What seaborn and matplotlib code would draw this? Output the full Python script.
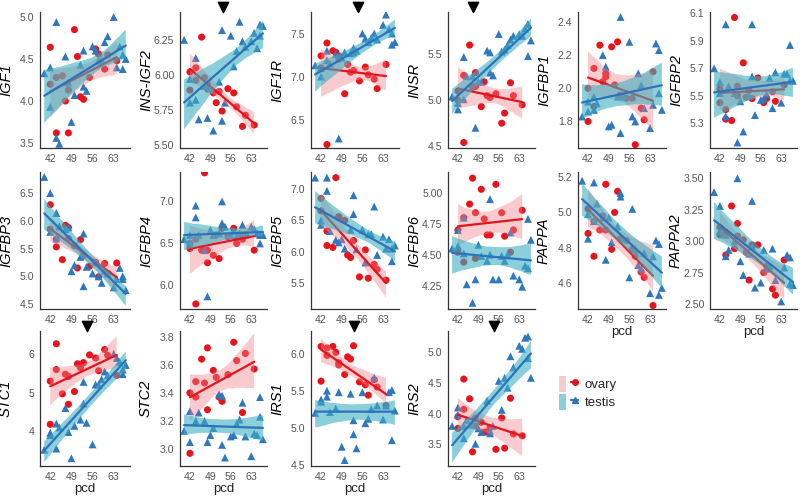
import numpy as np
import pandas as pd
import matplotlib
matplotlib.use('Agg')
import matplotlib.pyplot as plt
import matplotlib.transforms as mtransforms
from matplotlib.lines import Line2D
from matplotlib.patches import Patch
from matplotlib.legend_handler import HandlerTuple
from matplotlib.ticker import FormatStrFormatter
import seaborn as sns

# sampling ages (post-conception day)
ovary_pcd = [42, 42, 44, 44, 46, 47, 48, 48, 50, 51, 52, 53, 55, 57, 58, 60, 61, 64]
testis_pcd = [40, 42, 42, 44, 44, 45, 47, 48, 49, 50, 52, 53, 53, 54, 56, 57, 58, 59, 60, 61, 63, 64, 65, 66, 66, 67]

genes = ['IGF1', 'INS-IGF2', 'IGF1R', 'INSR', 'IGFBP1', 'IGFBP2',
         'IGFBP3', 'IGFBP4', 'IGFBP5', 'IGFBP6', 'PAPPA', 'PAPPA2',
         'STC1', 'STC2', 'IRS1', 'IRS2']

# expression values
igf1_ovary = [4.64, 4.20, 3.62, 4.28, 4.30, 4.00, 4.13, 3.62, 4.85, 4.53, 4.05, 4.02, 4.28, 4.62, 4.56, 4.38, 4.55, 4.48]
igf1_testis = [4.33, 4.40, 3.93, 4.94, 3.56, 3.49, 4.53, 4.22, 3.75, 4.07, 4.43, 4.60, 4.17, 4.12, 4.65, 4.60, 4.48, 4.49, 4.70, 4.77, 5.00, 4.40, 4.65, 4.38, 4.55, 4.50]
insigf2_ovary = [5.89, 6.02, 5.96, 6.05, 6.27, 5.98, 5.90, 5.93, 5.87, 5.80, 5.88, 5.74, 5.90, 5.87, 5.77, 5.63, 5.71, 5.64]
insigf2_testis = [6.25, 5.97, 5.80, 6.12, 5.82, 5.68, 5.92, 5.69, 5.90, 5.60, 5.95, 6.32, 5.67, 5.80, 6.28, 6.06, 6.17, 6.38, 6.24, 6.20, 6.24, 6.30, 6.19, 6.36, 6.28, 6.35]
igf1r_ovary = [7.24, 7.10, 7.39, 6.21, 7.30, 7.28, 7.24, 7.20, 6.80, 7.14, 7.05, 7.07, 6.95, 7.11, 7.02, 6.97, 6.86, 7.14]
igf1r_testis = [7.13, 7.00, 7.10, 7.30, 7.19, 7.15, 7.26, 6.28, 7.22, 7.28, 7.27, 7.33, 7.28, 7.30, 7.50, 7.44, 7.40, 7.45, 7.50, 7.43, 7.60, 7.72, 7.55, 7.37, 7.50, 7.40]
insr_ovary = [5.00, 5.10, 5.27, 4.54, 5.60, 5.14, 5.30, 5.15, 4.93, 5.20, 5.05, 5.03, 5.07, 4.75, 4.86, 5.19, 5.05, 4.95]
insr_testis = [5.04, 4.90, 4.97, 5.47, 5.01, 5.26, 5.26, 4.70, 5.20, 5.20, 5.54, 5.52, 5.30, 5.27, 5.72, 5.53, 5.55, 5.60, 5.66, 5.70, 5.72, 5.70, 5.78, 5.83, 5.48, 5.65]
igfbp1_ovary = [1.80, 2.00, 1.89, 2.12, 2.26, 2.04, 2.09, 2.07, 2.25, 2.02, 2.28, 1.96, 1.94, 1.94, 1.66, 1.88, 1.81, 2.10]
igfbp1_testis = [1.83, 1.92, 1.86, 1.95, 1.87, 1.91, 2.20, 2.13, 1.77, 1.78, 1.95, 2.43, 1.73, 1.95, 2.28, 1.83, 1.80, 2.09, 2.02, 1.88, 1.76, 1.90, 2.27, 2.23, 1.97, 1.87]
igfbp2_ovary = [5.45, 5.55, 5.33, 5.40, 5.32, 6.07, 5.57, 5.50, 5.74, 5.49, 5.54, 5.48, 5.63, 5.45, 5.48, 5.53, 5.46, 5.58]
igfbp2_testis = [5.70, 5.60, 5.52, 6.02, 5.35, 5.57, 5.52, 5.16, 5.46, 5.24, 5.50, 6.02, 5.64, 5.36, 5.47, 5.48, 5.51, 5.63, 5.41, 5.67, 5.45, 5.66, 5.66, 5.87, 5.61, 5.61]
igfbp3_ovary = [6.29, 5.85, 5.53, 5.67, 5.30, 5.92, 5.88, 5.68, 5.55, 5.15, 5.66, 5.37, 5.18, 5.25, 4.99, 5.23, 5.05, 5.24]
igfbp3_testis = [6.79, 6.50, 5.80, 6.14, 5.68, 5.90, 5.85, 5.88, 5.09, 5.20, 5.35, 5.77, 4.82, 5.17, 5.05, 5.25, 5.00, 4.88, 5.10, 5.05, 4.80, 4.95, 5.15, 5.00, 4.95, 4.75]
igfbp4_ovary = [6.44, 6.50, 6.55, 5.78, 6.42, 7.34, 6.27, 6.42, 6.36, 6.60, 6.32, 6.68, 6.58, 6.68, 6.50, 6.55, 6.60, 6.42]
igfbp4_testis = [6.55, 6.51, 6.60, 6.95, 6.81, 6.60, 6.42, 5.87, 6.66, 6.60, 6.62, 7.00, 6.74, 6.70, 6.60, 6.65, 6.58, 6.62, 6.72, 6.60, 6.70, 6.67, 6.62, 6.50, 6.60, 6.60]
igfbp5_ovary = [6.85, 6.65, 6.10, 6.33, 6.07, 7.18, 6.56, 6.55, 6.50, 5.95, 5.91, 6.18, 5.60, 6.03, 5.58, 5.80, 5.72, 5.55]
igfbp5_testis = [7.18, 6.50, 6.43, 7.18, 6.97, 6.33, 6.19, 6.15, 6.20, 6.05, 6.35, 6.90, 6.60, 6.04, 6.35, 5.83, 6.28, 6.28, 6.72, 5.95, 6.24, 6.05, 6.20, 6.05, 5.85, 6.10]
igfbp6_ovary = [4.52, 4.70, 4.44, 4.80, 4.91, 5.12, 4.47, 4.84, 5.03, 4.79, 4.66, 4.66, 5.07, 4.84, 4.65, 4.52, 4.70, 4.86]
igfbp6_testis = [4.55, 4.70, 4.57, 4.80, 4.51, 4.26, 4.11, 4.30, 4.58, 4.49, 4.45, 4.95, 4.50, 4.30, 4.30, 4.49, 4.45, 4.50, 4.68, 4.33, 4.30, 4.24, 4.41, 4.79, 4.39, 4.62]
pappa_ovary = [4.88, 5.02, 4.75, 4.95, 4.90, 4.98, 4.90, 5.16, 4.79, 5.00, 5.12, 4.85, 4.84, 4.79, 4.75, 4.66, 4.63, 4.47]
pappa_testis = [5.18, 4.99, 4.85, 5.17, 4.95, 5.05, 4.97, 4.73, 4.97, 4.83, 4.92, 5.11, 5.09, 4.85, 4.63, 5.02, 4.79, 4.70, 4.68, 4.77, 4.54, 4.75, 4.84, 4.82, 4.53, 4.57]
pappa2_ovary = [3.11, 3.05, 2.89, 3.07, 3.28, 2.94, 3.14, 3.04, 3.01, 2.91, 2.69, 2.97, 2.97, 2.75, 2.80, 2.62, 2.57, 2.85]
pappa2_testis = [3.39, 3.28, 3.08, 2.88, 3.05, 2.93, 3.00, 3.50, 2.84, 2.73, 2.90, 3.32, 2.96, 2.63, 2.67, 2.93, 2.78, 2.80, 2.94, 2.69, 2.52, 2.79, 2.89, 2.87, 2.66, 2.65]
stc1_ovary = [4.18, 5.30, 6.27, 5.60, 4.97, 5.48, 4.70, 5.42, 5.03, 5.75, 5.65, 5.78, 5.98, 5.90, 5.57, 6.12, 5.97, 5.45]
stc1_testis = [3.52, 3.96, 3.90, 4.20, 3.55, 4.10, 4.60, 3.98, 3.30, 4.14, 4.30, 5.28, 4.72, 4.22, 3.66, 5.21, 5.21, 5.35, 5.55, 5.45, 6.01, 5.90, 5.80, 5.48, 5.60, 5.72]
stc2_ovary = [2.97, 3.40, 3.48, 3.37, 3.64, 3.47, 3.28, 3.72, 3.56, 3.51, 3.37, 3.34, 3.53, 3.76, 3.63, 3.26, 3.68, 3.57]
stc2_testis = [3.13, 3.27, 3.05, 3.20, 3.19, 3.26, 3.20, 3.05, 3.10, 3.15, 3.39, 3.38, 3.03, 2.94, 3.09, 3.10, 3.18, 3.21, 3.33, 3.09, 2.95, 3.11, 3.10, 3.37, 3.23, 3.07]
irs1_ovary = [5.63, 6.10, 6.08, 5.98, 6.10, 6.02, 5.88, 5.85, 5.72, 5.96, 5.93, 6.11, 5.62, 5.58, 5.44, 5.65, 5.55, 5.30]
irs1_testis = [5.20, 5.38, 5.35, 5.50, 5.42, 5.21, 5.26, 5.48, 4.74, 4.56, 5.46, 5.10, 4.91, 4.72, 5.48, 5.06, 5.12, 5.25, 5.68, 5.30, 5.11, 5.30, 5.48, 5.51, 4.83, 5.23]
irs2_ovary = [3.76, 3.95, 4.07, 4.56, 4.24, 3.38, 3.93, 3.80, 3.86, 3.70, 3.70, 3.77, 3.42, 3.93, 3.44, 4.25, 3.67, 3.64]
irs2_testis = [3.80, 4.10, 3.98, 3.80, 3.60, 3.90, 3.82, 3.51, 3.76, 3.70, 4.21, 3.72, 3.68, 3.80, 4.53, 4.06, 4.58, 4.42, 4.93, 4.75, 5.10, 5.05, 5.23, 5.25, 4.90, 4.58]

# y tick values per panel
yticks = {
    'IGF1': [3.5, 4.0, 4.5, 5.0], 'INS-IGF2': [5.50, 5.75, 6.00, 6.25],
    'IGF1R': [6.5, 7.0, 7.5], 'INSR': [4.5, 5.0, 5.5],
    'IGFBP1': [1.8, 2.0, 2.2, 2.4], 'IGFBP2': [5.3, 5.5, 5.7, 5.9, 6.1],
    'IGFBP3': [4.5, 5.0, 5.5, 6.0, 6.5], 'IGFBP4': [6.0, 6.5, 7.0],
    'IGFBP5': [5.5, 6.0, 6.5, 7.0], 'IGFBP6': [4.25, 4.50, 4.75, 5.00],
    'PAPPA': [4.6, 4.8, 5.0, 5.2], 'PAPPA2': [2.50, 2.75, 3.00, 3.25, 3.50],
    'STC1': [4, 5, 6], 'STC2': [3.0, 3.2, 3.4, 3.6, 3.8],
    'IRS1': [4.5, 5.0, 5.5, 6.0], 'IRS2': [3.5, 4.0, 4.5, 5.0],
}
ytick_decimals = {'INS-IGF2': 2, 'IGFBP6': 2, 'PAPPA2': 2, 'STC1': 0}
ylims = {
    'IGF1': (3.44, 5.06), 'INS-IGF2': (5.475, 6.45), 'IGF1R': (6.17, 7.75),
    'INSR': (4.48, 5.96), 'IGFBP1': (1.64, 2.46), 'IGFBP2': (5.12, 6.11),
    'IGFBP3': (4.41, 6.88), 'IGFBP4': (5.72, 7.35), 'IGFBP5': (5.09, 7.27),
    'IGFBP6': (4.06, 5.17), 'PAPPA': (4.45, 5.23), 'PAPPA2': (2.46, 3.55),
    'STC1': (3.1, 6.6), 'STC2': (2.88, 3.84), 'IRS1': (4.48, 6.31),
    'IRS2': (3.15, 5.34),
}
# panels marked with an arrowhead (pcd of the marker)
arrow_pcd = {'INS-IGF2': 53.5, 'IGF1R': 54.5, 'INSR': 47.3,
             'STC1': 54.0, 'IRS1': 53.3, 'IRS2': 54.5}

values = {
    'IGF1': (igf1_ovary, igf1_testis), 'INS-IGF2': (insigf2_ovary, insigf2_testis),
    'IGF1R': (igf1r_ovary, igf1r_testis), 'INSR': (insr_ovary, insr_testis),
    'IGFBP1': (igfbp1_ovary, igfbp1_testis), 'IGFBP2': (igfbp2_ovary, igfbp2_testis),
    'IGFBP3': (igfbp3_ovary, igfbp3_testis), 'IGFBP4': (igfbp4_ovary, igfbp4_testis),
    'IGFBP5': (igfbp5_ovary, igfbp5_testis), 'IGFBP6': (igfbp6_ovary, igfbp6_testis),
    'PAPPA': (pappa_ovary, pappa_testis), 'PAPPA2': (pappa2_ovary, pappa2_testis),
    'STC1': (stc1_ovary, stc1_testis), 'STC2': (stc2_ovary, stc2_testis),
    'IRS1': (irs1_ovary, irs1_testis), 'IRS2': (irs2_ovary, irs2_testis),
}

rows = []
for g in genes:
    ov, te = values[g]
    rows += [(g, 'ovary', x, y) for x, y in zip(ovary_pcd, ov)]
    rows += [(g, 'testis', x, y) for x, y in zip(testis_pcd, te)]
df = pd.DataFrame(rows, columns=['gene', 'sex', 'pcd', 'expr'])

sns.set_style('white')
plt.rcParams['font.family'] = ['Liberation Sans', 'DejaVu Sans']

point_col = {'ovary': '#E8141C', 'testis': '#2F78C0'}
line_col = {'ovary': '#E3141C', 'testis': '#2F72BC'}
fill_col = {'ovary': '#F07F86', 'testis': '#3DB0C2'}
fill_alpha = {'ovary': 0.4, 'testis': 0.6}
markers = {'ovary': 'o', 'testis': '^'}
sizes = {'ovary': 26, 'testis': 32}

fig = plt.figure(figsize=(8.0, 4.98), dpi=100)

col_left = [40, 180, 311, 448, 578, 710]
col_width = [90, 87, 88, 87, 88, 87]
row_top = [12, 172, 331]
row_height = [136, 137, 135]

for i, g in enumerate(genes):
    r, c = divmod(i, 6)
    left, w = col_left[c], col_width[c]
    top, h = row_top[r], row_height[r]
    ax = fig.add_axes([left / 800, 1 - (top + h) / 498, w / 800, h / 498])
    d = df[df.gene == g]

    for sex in ['ovary', 'testis']:
        sub = d[d.sex == sex]
        sns.scatterplot(data=sub, x='pcd', y='expr', ax=ax, color=point_col[sex],
                        marker=markers[sex], s=sizes[sex], edgecolor='none',
                        zorder=1, legend=False)

    # ribbons drawn over the points, testis over ovary
    for k, sex in enumerate(['ovary', 'testis']):
        sub = d[d.sex == sex]
        n0 = len(ax.collections)
        sns.regplot(data=sub, x='pcd', y='expr', ax=ax, scatter=False,
                    color=line_col[sex], seed=3,
                    line_kws=dict(lw=1.6, zorder=2.1 + k * 0.2))
        for coll in ax.collections[n0:]:
            coll.set_facecolor(fill_col[sex])
            coll.set_edgecolor('none')
            coll.set_alpha(fill_alpha[sex])
            coll.set_zorder(2.0 + k * 0.2)

    ax.set_xlim(38.6, 68.4)
    ax.set_xticks([42, 49, 56, 63])
    ax.set_ylim(*ylims[g])
    ax.set_yticks(yticks[g])
    ax.yaxis.set_major_formatter(FormatStrFormatter('%%.%df' % ytick_decimals.get(g, 1)))

    ax.set_ylabel(g, fontsize=10.5, fontstyle='italic', color='black')
    ax.yaxis.set_label_coords(-27 / w, 0.5)
    if r == 2 or g in ('PAPPA', 'PAPPA2'):
        ax.set_xlabel('pcd', fontsize=9.5, color='#222222', labelpad=1)
    else:
        ax.set_xlabel('')

    for side in ['top', 'right']:
        ax.spines[side].set_visible(False)
    for side in ['left', 'bottom']:
        ax.spines[side].set_color('#333333')
        ax.spines[side].set_linewidth(0.9)
    ax.tick_params(labelsize=7.6, labelcolor='#555555', color='#555555',
                   length=2.5, width=0.7, pad=1.5)

    if g in arrow_pcd:
        trans = mtransforms.blended_transform_factory(ax.transData, ax.transAxes)
        ax.scatter([arrow_pcd[g]], [1.04], marker='v', s=55, color='black',
                   transform=trans, clip_on=False, zorder=5)

handles = [
    (Patch(facecolor=fill_col['ovary'], alpha=fill_alpha['ovary'], edgecolor='none'),
     Line2D([0], [0], color=line_col['ovary'], lw=1.6, marker='o', ms=4)),
    (Patch(facecolor=fill_col['testis'], alpha=fill_alpha['testis'], edgecolor='none'),
     Line2D([0], [0], color=line_col['testis'], lw=1.6, marker='^', ms=4.5)),
]
fig.legend(handles, ['ovary', 'testis'], loc='upper left',
           bbox_to_anchor=(547 / 800, 1 - 364 / 498), frameon=False,
           handler_map={tuple: HandlerTuple(ndivide=None)},
           fontsize=9.5, handlelength=1.45, handleheight=1.5,
           labelspacing=0.15, handletextpad=0.5)

fig.savefig('out.png', dpi=100)
